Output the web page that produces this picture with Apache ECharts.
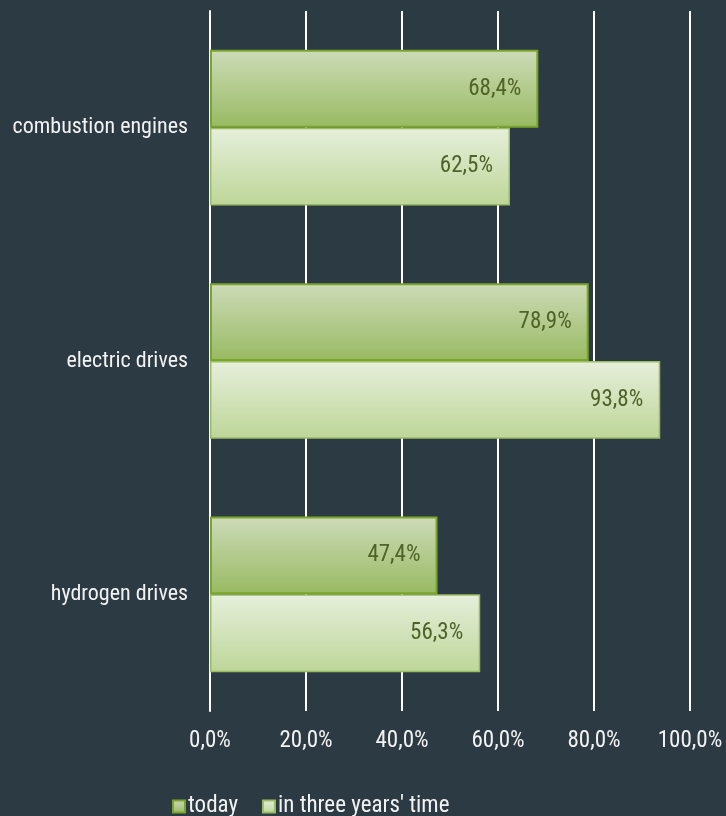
<!DOCTYPE html>
<html>
<head>
<meta charset="utf-8">
<script src="https://cdn.jsdelivr.net/npm/echarts@6/dist/echarts.min.js"></script>
<style>
html,body{margin:0;padding:0;background:#2c3a43;}
#c{width:726px;height:816px;}
</style>
</head>
<body>
<div id="c"></div>
<script>
const categories = ['combustion engines', 'electric drives', 'hydrogen drives'];
const seriesNames = ['today', "in three years' time"];
const todayValues = [68.4, 78.9, 47.4];
const threeYearValues = [62.5, 93.8, 56.3];
const xTicks = [0, 20, 40, 60, 80, 100];

const FONT = '"Roboto Condensed", "Liberation Sans Narrow", Arial, sans-serif';
const fmt = v => v.toFixed(1).replace('.', ',') + '%';

function grad(c1, c2) {
  return new echarts.graphic.LinearGradient(0, 0, 0, 1, [
    {offset: 0, color: c1}, {offset: 1, color: c2}
  ]);
}

const chart = echarts.init(document.getElementById('c'), null, {renderer: 'canvas'});
chart.setOption({
  backgroundColor: '#2c3a43',
  animation: false,
  grid: {left: 210, top: 11, width: 480, height: 700, containLabel: false},
  legend: {
    top: 790,
    left: 167,
    itemWidth: 12,
    itemHeight: 12,
    itemGap: 24,
    icon: 'rect',
    textStyle: {color: '#f2f2f2', fontSize: 23, fontFamily: FONT, padding: [0, 0, 0, -2]},
    data: seriesNames
  },
  xAxis: {
    type: 'value',
    min: 0, max: 100, interval: 20,
    axisLine: {show: false},
    axisTick: {show: false},
    splitLine: {show: true, lineStyle: {color: '#ffffff', width: 2}},
    axisLabel: {
      color: '#f2f2f2', fontSize: 23, fontFamily: FONT, margin: 19,
      formatter: v => xTicks.includes(v) ? fmt(v) : ''
    }
  },
  yAxis: {
    type: 'category',
    inverse: true,
    data: categories,
    axisLine: {show: true, lineStyle: {color: '#ffffff', width: 2}},
    axisTick: {show: false},
    axisLabel: {color: '#f2f2f2', fontSize: 22, fontFamily: FONT, margin: 22}
  },
  series: [
    {
      name: seriesNames[0],
      type: 'bar',
      data: todayValues,
      barGap: '0%',
      barCategoryGap: '33.3%',
      itemStyle: {color: grad('#cddbb8', '#98ba62'), borderColor: '#7aa52a', borderWidth: 2},
      label: {
        show: true, position: 'insideRight', distance: 17,
        color: '#4f6228', fontSize: 23, fontFamily: FONT,
        formatter: p => fmt(p.value)
      }
    },
    {
      name: seriesNames[1],
      type: 'bar',
      data: threeYearValues,
      barGap: '0%',
      barCategoryGap: '33.3%',
      itemStyle: {color: grad('#e6efdb', '#bdd698'), borderColor: '#9bbb64', borderWidth: 1.5},
      label: {
        show: true, position: 'insideRight', distance: 17,
        color: '#4f6228', fontSize: 23, fontFamily: FONT,
        formatter: p => fmt(p.value)
      }
    }
  ]
});
</script>
</body>
</html>
